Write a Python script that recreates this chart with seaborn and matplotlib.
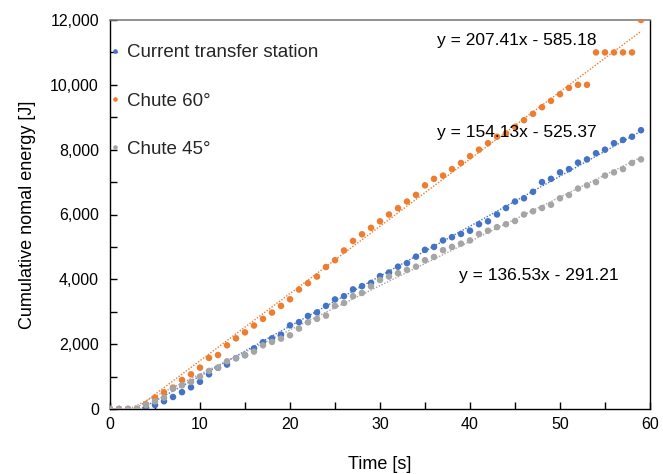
import numpy as np
import pandas as pd
import matplotlib
matplotlib.use("Agg")
import matplotlib.pyplot as plt
import seaborn as sns
from matplotlib.ticker import MultipleLocator, StrMethodFormatter

# Time axis (s)
time_s = list(range(60))

# Cumulative normal energy [J] per configuration
current_station = [0, 0, 0, 0, 50, 120, 240, 370, 520, 670,
                   840, 1070, 1270, 1370, 1570, 1660, 1870, 2060, 2180, 2290,
                   2580, 2680, 2870, 2980, 3180, 3380, 3480, 3690, 3790, 3890,
                   4100, 4210, 4390, 4500, 4700, 4910, 5000, 5200, 5300, 5400,
                   5500, 5700, 5790, 6000, 6200, 6400, 6500, 6700, 7000, 7100,
                   7300, 7400, 7600, 7700, 7890, 8000, 8200, 8300, 8400, 8600]
chute_60 = [0, 0, 0, 0, 145, 350, 515, 660, 895, 1070,
            1275, 1575, 1665, 1965, 2180, 2365, 2575, 2780, 2975, 3180,
            3385, 3685, 3880, 4085, 4380, 4590, 4890, 5185, 5390, 5590,
            5790, 6000, 6195, 6400, 6605, 6900, 7100, 7200, 7400, 7590,
            7800, 8000, 8200, 8400, 8500, 8705, 8910, 9105, 9310, 9505,
            9710, 9905, 10000, 10000, 11000, 11000, 11000, 11000, 11000, 12000]
chute_45 = [0, 0, 0, 0, 120, 235, 350, 625, 730, 835,
            1000, 1175, 1275, 1470, 1565, 1665, 1770, 1965, 2070, 2170,
            2275, 2480, 2675, 2780, 2880, 3180, 3270, 3480, 3580, 3785,
            3980, 4085, 4190, 4290, 4390, 4590, 4690, 4900, 5000, 5100,
            5200, 5400, 5500, 5610, 5700, 5800, 6000, 6100, 6200, 6300,
            6500, 6600, 6800, 6900, 7000, 7200, 7300, 7400, 7590, 7700]

series_names = ["Current transfer station", "Chute 60°", "Chute 45°"]
series_colors = ["#4472C4", "#ED7D31", "#A5A5A5"]

# Linear trend lines (slope, intercept)
trend_slopes = [154.13, 207.41, 136.53]
trend_intercepts = [-525.37, -585.18, -291.21]
# Where each equation is written (data coordinates)
eq_pos = [(45.2, 8520), (45.2, 11360), (47.6, 4105)]

df = pd.concat([
    pd.DataFrame({"Time": time_s, "Energy": vals, "Series": name})
    for name, vals in zip(series_names, [current_station, chute_60, chute_45])
], ignore_index=True)

sns.set_style("ticks")
plt.rcParams["font.family"] = ["Liberation Sans", "DejaVu Sans"]

fig = plt.figure(figsize=(6.63, 4.74), dpi=100)
ax = fig.add_axes([110 / 663, 1 - 409 / 474, 540 / 663, 389 / 474])

# trend lines, drawn beneath the markers
for m, b, c in zip(trend_slopes, trend_intercepts, series_colors):
    xs = np.array([time_s[0], time_s[-1]])
    ax.plot(xs, m * xs + b, linestyle=(0, (1, 1.2)), color=c, linewidth=1.0, zorder=1)

sns.scatterplot(data=df, x="Time", y="Energy", hue="Series",
                hue_order=series_names, palette=series_colors,
                s=22, edgecolor="none", linewidth=0, ax=ax, zorder=3)

for (m, b), (ex, ey) in zip(zip(trend_slopes, trend_intercepts), eq_pos):
    label = f"y = {m:.2f}x - {abs(b):.2f}" if b < 0 else f"y = {m:.2f}x + {b:.2f}"
    ax.text(ex, ey, label, ha="center", va="center", fontsize=12.5, color="black")

ax.set_xlim(0, 60)
ax.set_ylim(0, 12000)
ax.xaxis.set_major_locator(MultipleLocator(10))
ax.xaxis.set_minor_locator(MultipleLocator(5))
ax.yaxis.set_major_locator(MultipleLocator(2000))
ax.yaxis.set_minor_locator(MultipleLocator(1000))
ax.yaxis.set_major_formatter(StrMethodFormatter("{x:,.0f}"))
ax.tick_params(which="both", direction="in", length=5, width=1, color="black",
               labelsize=11.5, labelcolor="black")
ax.tick_params(axis="x", pad=6)
ax.tick_params(axis="y", pad=8)

for side in ["left", "bottom", "right"]:
    ax.spines[side].set_color("black")
    ax.spines[side].set_linewidth(1.0)
ax.spines["top"].set_color("#7f7f7f")
ax.spines["top"].set_linewidth(1.2)

ax.set_xlabel("Time [s]", fontsize=13, color="black", labelpad=17)
ax.set_ylabel("Cumulative nomal energy [J]", fontsize=13, color="black", labelpad=10)

leg = ax.legend(loc="upper left", bbox_to_anchor=(-0.012, 0.957), frameon=False,
                fontsize=13.5, handlelength=0.4, handletextpad=0.44,
                labelspacing=1.66, markerscale=0.7, borderaxespad=0)

fig.savefig("out.png", dpi=100)
